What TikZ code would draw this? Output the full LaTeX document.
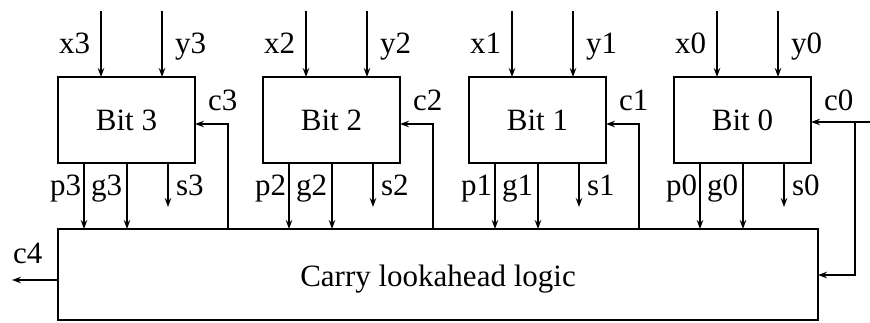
\documentclass[tikz,border=0pt]{standalone}
\usepackage{fontspec}
\setmainfont{Liberation Serif}
\usetikzlibrary{arrows.meta,calc}
\begin{document}
\begin{tikzpicture}[x=1pt,y=-1pt,
  line width=1.6pt,
  every node/.style={font=\fontsize{31}{31}\selectfont, inner sep=0pt, outer sep=0pt},
  bitbox/.style={draw, line width=1.8pt, minimum width=137pt, minimum height=86pt, anchor=north west},
  clabox/.style={draw, line width=1.8pt, minimum width=760pt, minimum height=91pt, anchor=north west},
  sig/.style={-{Stealth[length=9pt,width=6.5pt]}},
  wire/.style={line width=1.6pt}]
\useasboundingbox (0,0) rectangle (870,322);
\node[clabox] (cla) at (58,229) {};
\node (clatext) at ($(cla.center)+(0,5)$) {Carry lookahead logic};
\foreach \i/\X in {3/58, 2/263, 1/469, 0/674} {
  \node[bitbox] (b\i) at (\X,77) {Bit \i};
  \coordinate (xin\i) at (\X+43,11);
  \coordinate (yin\i) at (\X+104,11);
  \draw[sig] (xin\i) -- (xin\i |- b\i.north);
  \draw[sig] (yin\i) -- (yin\i |- b\i.north);
  \node[anchor=base east] (xl\i) at (\X+32,53) {x\i};
  \node[anchor=base west] (yl\i) at (\X+117,53) {y\i};
  \coordinate (pc\i) at (\X+26,163);
  \coordinate (gc\i) at (\X+69,163);
  \coordinate (sc\i) at (\X+110,163);
  \coordinate (se\i) at (\X+110,207);
  \draw[sig] (pc\i) -- (pc\i |- cla.north);
  \draw[sig] (gc\i) -- (gc\i |- cla.north);
  \draw[sig] (sc\i) -- (se\i);
  \node[anchor=base east] (pl\i) at (\X+23,195) {p\i};
  \node[anchor=base west] (gl\i) at (\X+33,195) {g\i};
  \node[anchor=base west] (sl\i) at (\X+118,195) {s\i};
  \node[anchor=base west] (cl\i) at (\X+150,110) {c\i};
}
\foreach \i/\X in {3/58, 2/263, 1/469} {
  \coordinate (ct\i) at (\X+170,124);
  \draw[sig] (ct\i |- cla.north) -- (ct\i) -- (ct\i -| b\i.east);
}
\coordinate (c0in) at (870,122);
\coordinate (c0j) at (855,122);
\coordinate (c0k) at (855,275);
\draw[sig] (c0in) -- (c0in -| b0.east);
\draw[sig] (c0j) -- (c0k) -- (c0k -| cla.east);
\coordinate (c4out) at (12,280);
\draw[sig] (c4out -| cla.west) -- (c4out);
\node[anchor=base west] (c4l) at (13,263) {c4};
\end{tikzpicture}
\end{document}
